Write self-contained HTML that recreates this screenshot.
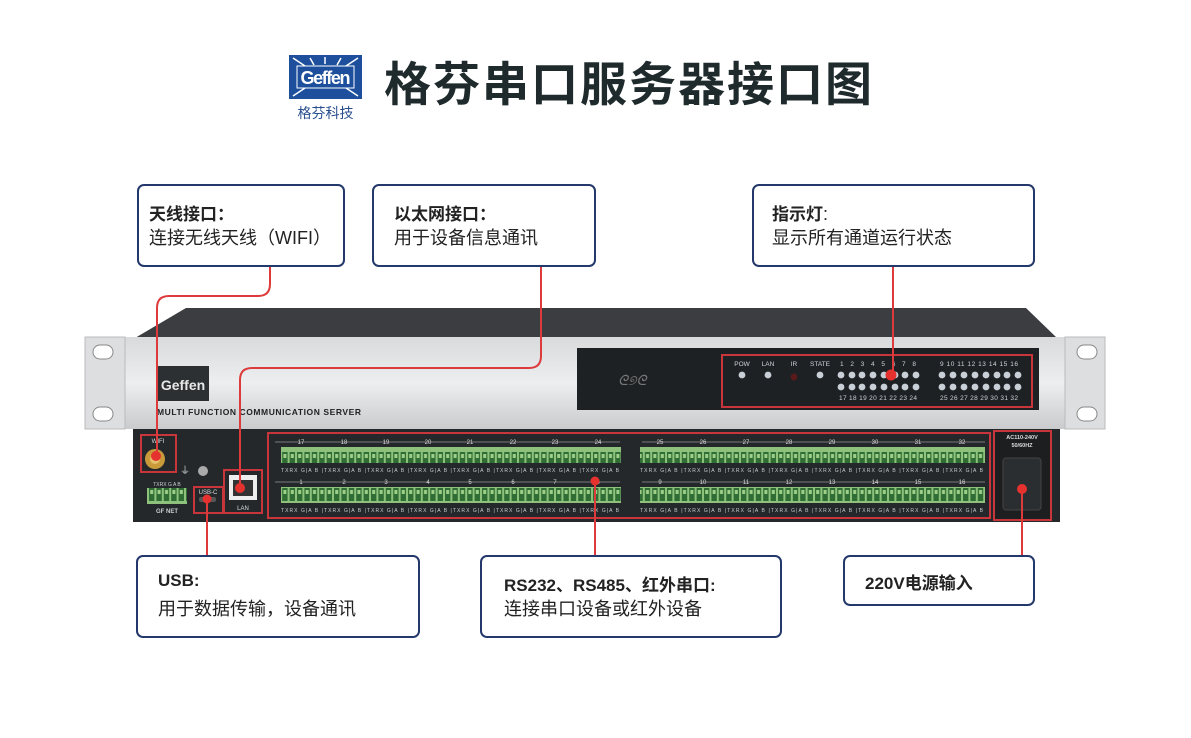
<!DOCTYPE html>
<html><head><meta charset="utf-8">
<style>
html,body{margin:0;padding:0;background:#fff;}
body{width:1191px;height:738px;position:relative;overflow:hidden;font-family:"Liberation Sans","Noto Sans CJK SC",sans-serif;}
.box{position:absolute;border:2px solid #23396b;border-radius:7px;background:#fff;box-sizing:border-box;color:#222;}
.box b{position:absolute;left:10px;top:14px;font-size:17px;font-weight:bold;white-space:nowrap;}
.box span{position:absolute;left:10px;top:38px;font-size:18px;white-space:nowrap;}
</style></head><body>
<svg width="1191" height="738" style="position:absolute;left:0;top:0" xmlns="http://www.w3.org/2000/svg">
<defs>
<linearGradient id="silver" x1="0" y1="0" x2="0" y2="1">
<stop offset="0" stop-color="#d8dadc"/><stop offset="0.5" stop-color="#eceeef"/><stop offset="1" stop-color="#c9cbcd"/></linearGradient>
<pattern id="term" x="0" y="0" width="7.4" height="18" patternUnits="userSpaceOnUse">
<rect width="7.4" height="18" fill="#8ec27c"/><rect x="1" y="2" width="5.4" height="13" fill="#2f6d34"/><rect x="2.2" y="4" width="3" height="4" fill="#9fd08a"/></pattern>
</defs>
<!-- logo -->
<rect x="289" y="55" width="73" height="44" fill="#1d4f9c"/>
<g stroke="#fff" stroke-width="1.5">
<line x1="293" y1="58" x2="305" y2="66"/><line x1="358" y1="58" x2="346" y2="66"/>
<line x1="293" y1="96" x2="305" y2="88"/><line x1="358" y1="96" x2="346" y2="88"/>
<line x1="310" y1="58" x2="314" y2="65"/><line x1="341" y1="58" x2="337" y2="65"/>
<line x1="325" y1="57" x2="325" y2="64"/>
</g>
<rect x="297" y="66" width="57" height="22" fill="#1d4f9c" stroke="#fff" stroke-width="1"/>
<text x="325.5" y="84" font-family="Liberation Sans" font-weight="bold" font-size="18" fill="#fff" text-anchor="middle" textLength="50">Geffen</text>
<text x="325.5" y="118" font-family="Noto Sans CJK SC" font-size="14" fill="#2a4f8f" text-anchor="middle">格芬科技</text>
<text x="384" y="101" font-family="Noto Sans CJK SC" font-weight="bold" font-size="47" fill="#1f2a2c" textLength="488">格芬串口服务器接口图</text>

<!-- device top -->
<polygon points="135,338 186,308 1026,308 1057,338" fill="#3b3d40"/>
<!-- front plate -->
<rect x="85" y="337" width="1020" height="92" fill="url(#silver)"/>
<rect x="85" y="337" width="40" height="92" fill="#dcdee0" stroke="#bbb"/>
<rect x="1065" y="337" width="40" height="92" fill="#dcdee0" stroke="#bbb"/>
<rect x="93" y="345" width="20" height="14" rx="7" fill="#fff" stroke="#888"/>
<rect x="93" y="407" width="20" height="14" rx="7" fill="#fff" stroke="#888"/>
<rect x="1077" y="345" width="20" height="14" rx="7" fill="#fff" stroke="#888"/>
<rect x="1077" y="407" width="20" height="14" rx="7" fill="#fff" stroke="#888"/>
<rect x="157" y="366" width="52" height="35" fill="#2d3033"/>
<text x="183" y="390" font-family="Liberation Sans" font-weight="bold" font-size="14" fill="#e8e8e8" text-anchor="middle">Geffen</text>
<text x="157" y="415" font-family="Liberation Sans" font-weight="bold" font-size="8.5" fill="#222" textLength="204">MULTI FUNCTION COMMUNICATION SERVER</text>
<!-- black display -->
<rect x="577" y="348" width="462" height="62" fill="#1e2124"/>
<text x="618" y="385" font-family="Liberation Serif" font-style="italic" font-size="14" fill="#777">ᘓ୭ᘓ</text>
<rect x="722" y="355" width="310" height="52" fill="none" stroke="#c8353a" stroke-width="2"/>
<g font-family="Liberation Sans" font-size="6.5" fill="#cfd3d8" text-anchor="middle">
<text x="742" y="366">POW</text><text x="768" y="366">LAN</text><text x="794" y="366">IR</text><text x="820" y="366">STATE</text>
<text x="878" y="366" textLength="76">1  2  3  4  5  6  7  8</text>
<text x="979" y="366" textLength="78">9 10 11 12 13 14 15 16</text>
<text x="878" y="400" textLength="78">17 18 19 20 21 22 23 24</text>
<text x="979" y="400" textLength="78">25 26 27 28 29 30 31 32</text>
</g>
<circle cx="742" cy="375" r="3.4" fill="#c9cfd6"/><circle cx="768" cy="375" r="3.4" fill="#c9cfd6"/>
<circle cx="794" cy="377" r="3.4" fill="#5a1a1a"/><circle cx="820" cy="375" r="3.4" fill="#c9cfd6"/>
<g fill="#c9cfd6">
<circle cx="841" cy="375" r="3.4"/><circle cx="852" cy="375" r="3.4"/><circle cx="862" cy="375" r="3.4"/><circle cx="873" cy="375" r="3.4"/><circle cx="884" cy="375" r="3.4"/><circle cx="895" cy="375" r="3.4"/><circle cx="905" cy="375" r="3.4"/><circle cx="916" cy="375" r="3.4"/>
<circle cx="841" cy="387" r="3.4"/><circle cx="852" cy="387" r="3.4"/><circle cx="862" cy="387" r="3.4"/><circle cx="873" cy="387" r="3.4"/><circle cx="884" cy="387" r="3.4"/><circle cx="895" cy="387" r="3.4"/><circle cx="905" cy="387" r="3.4"/><circle cx="916" cy="387" r="3.4"/>
<circle cx="942" cy="375" r="3.4"/><circle cx="953" cy="375" r="3.4"/><circle cx="964" cy="375" r="3.4"/><circle cx="975" cy="375" r="3.4"/><circle cx="986" cy="375" r="3.4"/><circle cx="997" cy="375" r="3.4"/><circle cx="1007" cy="375" r="3.4"/><circle cx="1018" cy="375" r="3.4"/>
<circle cx="942" cy="387" r="3.4"/><circle cx="953" cy="387" r="3.4"/><circle cx="964" cy="387" r="3.4"/><circle cx="975" cy="387" r="3.4"/><circle cx="986" cy="387" r="3.4"/><circle cx="997" cy="387" r="3.4"/><circle cx="1007" cy="387" r="3.4"/><circle cx="1018" cy="387" r="3.4"/>
</g>
<!-- rear panel -->
<rect x="133" y="429" width="927" height="93" fill="#25282b"/>
<rect x="141" y="435" width="35" height="37" fill="none" stroke="#c8353a" stroke-width="2"/>
<text x="158" y="443" font-size="6" fill="#ddd" text-anchor="middle" font-family="Liberation Sans">WIFI</text>
<circle cx="155" cy="459" r="10" fill="#c89a3a"/><circle cx="155" cy="459" r="5" fill="#e6c06a"/>
<circle cx="203" cy="471" r="5" fill="#aaa"/>
<text x="180" y="474" font-size="10" fill="#ccc">⏚</text>
<rect x="147" y="488" width="40" height="16" fill="url(#term)"/>
<text x="167" y="486" font-size="5" fill="#ccc" text-anchor="middle" font-family="Liberation Sans">TXRX G A B</text>
<text x="167" y="513" font-size="6" fill="#ccc" text-anchor="middle" font-family="Liberation Sans" font-weight="bold">GF NET</text>
<rect x="194" y="487" width="29" height="26" fill="none" stroke="#c8353a" stroke-width="2"/>
<text x="208" y="494" font-size="6" fill="#ddd" text-anchor="middle" font-family="Liberation Sans">USB-C</text>
<rect x="199" y="497" width="17" height="5" rx="2" fill="#555"/>
<rect x="224" y="470" width="38" height="43" fill="none" stroke="#c8353a" stroke-width="2"/>
<rect x="229" y="475" width="28" height="25" fill="#eee"/><rect x="233" y="480" width="20" height="16" fill="#333"/>
<text x="243" y="510" font-size="6" fill="#ddd" text-anchor="middle" font-family="Liberation Sans">LAN</text>
<rect x="268" y="433" width="722" height="85" fill="none" stroke="#c8353a" stroke-width="2"/>
<g stroke="#ccc" stroke-width="0.6"><line x1="275" y1="442" x2="620" y2="442"/><line x1="642" y1="442" x2="985" y2="442"/><line x1="275" y1="482" x2="620" y2="482"/><line x1="642" y1="482" x2="985" y2="482"/></g>
<rect x="281" y="447" width="340" height="16" fill="url(#term)"/>
<rect x="640" y="447" width="345" height="16" fill="url(#term)"/>
<rect x="281" y="487" width="340" height="16" fill="url(#term)"/>
<rect x="640" y="487" width="345" height="16" fill="url(#term)"/>
<g font-family="Liberation Sans" font-size="5" fill="#ccc">
<text x="281" y="472" textLength="338">TXRX G|A B |TXRX G|A B |TXRX G|A B |TXRX G|A B |TXRX G|A B |TXRX G|A B |TXRX G|A B |TXRX G|A B</text>
<text x="640" y="472" textLength="343">TXRX G|A B |TXRX G|A B |TXRX G|A B |TXRX G|A B |TXRX G|A B |TXRX G|A B |TXRX G|A B |TXRX G|A B</text>
<text x="281" y="512" textLength="338">TXRX G|A B |TXRX G|A B |TXRX G|A B |TXRX G|A B |TXRX G|A B |TXRX G|A B |TXRX G|A B |TXRX G|A B</text>
<text x="640" y="512" textLength="343">TXRX G|A B |TXRX G|A B |TXRX G|A B |TXRX G|A B |TXRX G|A B |TXRX G|A B |TXRX G|A B |TXRX G|A B</text>
</g>
<g font-family="Liberation Sans" font-size="6" fill="#ddd" text-anchor="middle">
<text x="301" y="444">17</text><text x="344" y="444">18</text><text x="386" y="444">19</text><text x="428" y="444">20</text><text x="470" y="444">21</text><text x="513" y="444">22</text><text x="555" y="444">23</text><text x="598" y="444">24</text>
<text x="660" y="444">25</text><text x="703" y="444">26</text><text x="746" y="444">27</text><text x="789" y="444">28</text><text x="832" y="444">29</text><text x="875" y="444">30</text><text x="918" y="444">31</text><text x="962" y="444">32</text>
<text x="301" y="484">1</text><text x="344" y="484">2</text><text x="386" y="484">3</text><text x="428" y="484">4</text><text x="470" y="484">5</text><text x="513" y="484">6</text><text x="555" y="484">7</text><text x="598" y="484">8</text>
<text x="660" y="484">9</text><text x="703" y="484">10</text><text x="746" y="484">11</text><text x="789" y="484">12</text><text x="832" y="484">13</text><text x="875" y="484">14</text><text x="918" y="484">15</text><text x="962" y="484">16</text>
</g>
<rect x="994" y="431" width="57" height="89" fill="#1c1e20" stroke="#c8353a" stroke-width="2"/>
<text x="1022" y="439" font-size="5.5" fill="#ddd" text-anchor="middle" font-family="Liberation Sans" font-weight="bold">AC110-240V</text>
<text x="1022" y="447" font-size="5.5" fill="#ddd" text-anchor="middle" font-family="Liberation Sans" font-weight="bold">50/60HZ</text>
<rect x="1003" y="458" width="38" height="52" rx="3" fill="#2b2e31" stroke="#444"/>

<!-- red connectors -->
<g stroke="#dd3b3b" stroke-width="2" fill="none">
<path d="M270 266 V284 Q270 296 258 296 H169 Q157 296 157 308 V456"/>
<path d="M541 266 V356 Q541 368 529 368 H252 Q240 368 240 380 V488"/>
<path d="M893 266 V375"/>
<path d="M207 499 V555"/>
<path d="M595 481 V555"/>
<path d="M1022 489 V555"/>
</g>
<g fill="#e5322e">
<circle cx="156" cy="456" r="5"/><circle cx="240" cy="488" r="5"/><circle cx="891" cy="375" r="5.5"/>
<circle cx="207" cy="499" r="4.5"/><circle cx="595" cy="481" r="4.5"/><circle cx="1022" cy="489" r="5"/>
</g>
</svg>

<div class="box" style="left:137px;top:184px;width:208px;height:83px"><b>天线接口：</b><span>连接无线天线（WIFI）</span></div>
<div class="box" style="left:372px;top:184px;width:224px;height:83px"><b style="left:20px">以太网接口：</b><span style="left:20px">用于设备信息通讯</span></div>
<div class="box" style="left:752px;top:184px;width:283px;height:83px"><b style="left:18px">指示灯<span style="position:static;font-weight:normal">:</span></b><span style="left:18px">显示所有通道运行状态</span></div>
<div class="box" style="left:136px;top:555px;width:284px;height:83px"><b style="left:20px">USB:</b><span style="left:20px">用于数据传输，设备通讯</span></div>
<div class="box" style="left:480px;top:555px;width:302px;height:83px"><b style="left:22px">RS232、RS485、红外串口:</b><span style="left:22px">连接串口设备或红外设备</span></div>
<div class="box" style="left:843px;top:555px;width:192px;height:51px"><b style="left:20px;top:12px">220V电源输入</b></div>
</body></html>
